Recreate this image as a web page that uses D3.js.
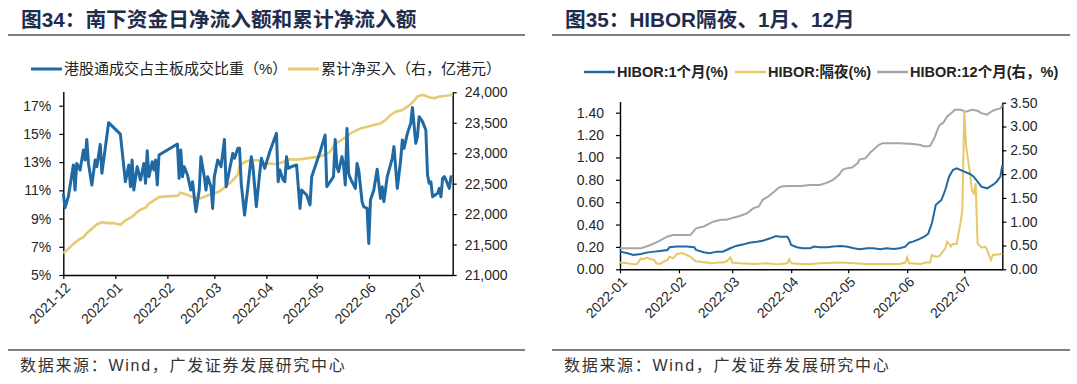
<!DOCTYPE html>
<html>
<head>
<meta charset="utf-8">
<script src="https://cdn.jsdelivr.net/npm/d3@7"></script>
<style>
  body { margin: 0; background: #ffffff; }
  text { font-family: "Liberation Sans", "Noto Sans CJK SC", sans-serif; }
</style>
</head>
<body>
<svg id="canvas"></svg>
<script>
////////////////////////////////////////////////////////////////////////////////
// Data - figure 34 (southbound flows)
////////////////////////////////////////////////////////////////////////////////

// Share of southbound turnover in main board turnover (%), left axis.
var shareDates = [
  '2021-12-01','2021-12-02','2021-12-04','2021-12-07','2021-12-08','2021-12-09','2021-12-11','2021-12-13',
  '2021-12-14','2021-12-15','2021-12-16','2021-12-18','2021-12-20','2021-12-21','2021-12-23','2021-12-24',
  '2021-12-28','2022-01-04','2022-01-07','2022-01-09','2022-01-10','2022-01-11','2022-01-12','2022-01-14',
  '2022-01-16','2022-01-18','2022-01-19','2022-01-20','2022-01-21','2022-01-23','2022-01-24','2022-01-25',
  '2022-01-26','2022-01-27','2022-02-07','2022-02-08','2022-02-09','2022-02-10','2022-02-11','2022-02-13',
  '2022-02-15','2022-02-16','2022-02-18','2022-02-20','2022-02-21','2022-02-23','2022-02-24','2022-02-25',
  '2022-02-27','2022-02-28','2022-03-01','2022-03-03','2022-03-05','2022-03-07','2022-03-08','2022-03-10',
  '2022-03-12','2022-03-13','2022-03-15','2022-03-16','2022-03-17','2022-03-19','2022-03-21','2022-03-23',
  '2022-03-24','2022-03-26','2022-03-28','2022-03-29','2022-03-31','2022-04-03','2022-04-07','2022-04-08',
  '2022-04-09','2022-04-11','2022-04-12','2022-04-13','2022-04-14','2022-04-16','2022-04-19','2022-04-21',
  '2022-04-22','2022-04-25','2022-04-27','2022-04-28','2022-05-01','2022-05-03','2022-05-06','2022-05-07',
  '2022-05-09','2022-05-11','2022-05-12','2022-05-13','2022-05-14','2022-05-16','2022-05-17','2022-05-18',
  '2022-05-19','2022-05-20','2022-05-21','2022-05-24','2022-05-25','2022-05-26','2022-05-28','2022-05-29',
  '2022-05-31','2022-06-01','2022-06-02','2022-06-04','2022-06-06','2022-06-08','2022-06-09','2022-06-10',
  '2022-06-12','2022-06-15','2022-06-16','2022-06-18','2022-06-20','2022-06-21','2022-06-22','2022-06-24',
  '2022-06-26','2022-06-27','2022-06-29','2022-06-30','2022-07-01','2022-07-03','2022-07-05','2022-07-06',
  '2022-07-07','2022-07-08','2022-07-09','2022-07-12','2022-07-13','2022-07-14','2022-07-15','2022-07-16',
  '2022-07-17','2022-07-19','2022-07-20','2022-07-21'
];
var shareValues = [
  10.79, 9.77,10.55,12.80,11.02,12.91,12.44,13.86,
  13.15,14.61,12.91,11.38,13.15,12.68,14.26,12.21,
  15.80,14.99,11.61,12.80,11.26,13.15,11.02,12.68,
  11.73,12.91,11.50,13.81,11.97,13.03,12.44,13.15,
  11.38,13.50,14.28,11.85,13.86,11.97,12.68,12.09,
  11.02,11.61, 9.49,11.02,13.39,11.97,11.02,11.97,
  11.26, 9.72,11.97,13.15,12.68,14.61,11.26,12.44,
  13.62,13.27,13.98,13.98,11.50, 9.25,11.26,13.39,
  12.68, 9.84,12.21,13.27,12.56,13.74,15.04,11.61,
  12.44,11.73,11.61,13.39,12.56,12.68,12.80, 9.72,
  11.02,10.67, 9.96,11.97,13.03,13.74,14.92,11.26,
  11.61,11.97,14.61,12.68,12.32,13.39,12.80,11.38,
  15.39,12.21,11.85,11.14,12.91,12.44,10.20, 9.84,
   9.72, 7.24,10.32,11.02,12.49,10.43,11.26,10.20,
  11.97,13.27,14.10,11.14,13.15,14.57,13.98,15.04,
  15.75,16.88,14.33,14.80,16.22,15.87,15.28,12.09,
  11.50,11.61,10.55,10.79,11.14,10.55,11.85,11.97,
  11.73,11.14,11.97,11.97
];

// Cumulative net buying (right axis, 100m HKD).
var cumDates = [
  '2021-12-01','2021-12-04','2021-12-07','2021-12-10','2021-12-13','2021-12-15','2021-12-18','2021-12-21',
  '2021-12-24','2021-12-27','2021-12-31','2022-01-04','2022-01-07','2022-01-10','2022-01-12','2022-01-14',
  '2022-01-16','2022-01-19','2022-01-21','2022-01-24','2022-01-27','2022-02-01','2022-02-07','2022-02-09',
  '2022-02-12','2022-02-16','2022-02-20','2022-02-23','2022-02-25','2022-03-01','2022-03-05','2022-03-08',
  '2022-03-12','2022-03-15','2022-03-16','2022-03-19','2022-03-23','2022-03-27','2022-03-30','2022-04-03',
  '2022-04-07','2022-04-11','2022-04-15','2022-04-19','2022-04-23','2022-04-27','2022-05-01','2022-05-05',
  '2022-05-09','2022-05-12','2022-05-15','2022-05-18','2022-05-21','2022-05-24','2022-05-27','2022-05-31',
  '2022-06-04','2022-06-08','2022-06-11','2022-06-14','2022-06-17','2022-06-21','2022-06-24','2022-06-27',
  '2022-06-30','2022-07-02','2022-07-04','2022-07-07','2022-07-10','2022-07-13','2022-07-16','2022-07-19',
  '2022-07-21'
];
var cumValues = [
  21357,21429,21511,21577,21621,21687,21758,21830,
  21868,21852,21852,21824,21896,21940,21978,22033,
  22072,22104,22170,22225,22280,22291,22302,22352,
  22324,22280,22258,22280,22308,22335,22390,22456,
  22555,22649,22786,22857,22885,22885,22830,22830,
  22819,22857,22901,22895,22907,22923,22940,22967,
  23022,23159,23203,23258,23324,23368,23407,23434,
  23462,23489,23544,23627,23682,23709,23764,23830,
  23929,23956,23951,23918,23901,23929,23940,23951,
  23962
];

var shareTicks = [5, 7, 9, 11, 13, 15, 17];
var cumTicks = [21000, 21500, 22000, 22500, 23000, 23500, 24000];

////////////////////////////////////////////////////////////////////////////////
// Data - figure 35 (HIBOR)
////////////////////////////////////////////////////////////////////////////////

// HIBOR 1 month (%), left axis.
var hibor1mDates = [
  '2022-01-01','2022-01-05','2022-01-08','2022-01-12','2022-01-15','2022-01-19','2022-01-22','2022-01-26',
  '2022-01-27','2022-01-31','2022-02-05','2022-02-09','2022-02-10','2022-02-14','2022-02-17','2022-02-21',
  '2022-02-24','2022-02-28','2022-03-03','2022-03-07','2022-03-10','2022-03-14','2022-03-17','2022-03-21',
  '2022-03-24','2022-03-26','2022-03-30','2022-03-31','2022-04-01','2022-04-04','2022-04-07','2022-04-11',
  '2022-04-13','2022-04-16','2022-04-20','2022-04-23','2022-04-27','2022-04-30','2022-05-04','2022-05-07',
  '2022-05-11','2022-05-14','2022-05-18','2022-05-21','2022-05-25','2022-05-28','2022-05-31','2022-06-02',
  '2022-06-04','2022-06-07','2022-06-10','2022-06-12','2022-06-14','2022-06-16','2022-06-18','2022-06-19',
  '2022-06-21','2022-06-23','2022-06-25','2022-06-27','2022-07-01','2022-07-04','2022-07-06','2022-07-08',
  '2022-07-10','2022-07-13','2022-07-16','2022-07-18','2022-07-20','2022-07-21'
];
var hibor1mValues = [
  0.158,0.143,0.128,0.137,0.149,0.158,0.164,0.173,
  0.197,0.203,0.203,0.197,0.173,0.152,0.143,0.158,
  0.158,0.188,0.209,0.223,0.238,0.247,0.256,0.277,
  0.298,0.292,0.292,0.262,0.217,0.197,0.188,0.188,
  0.203,0.197,0.197,0.203,0.209,0.203,0.188,0.179,
  0.188,0.188,0.179,0.188,0.182,0.188,0.203,0.238,
  0.247,0.268,0.292,0.316,0.411,0.575,0.605,0.620,
  0.709,0.828,0.888,0.903,0.873,0.852,0.828,0.783,
  0.739,0.724,0.754,0.783,0.828,0.932
];

// HIBOR overnight (%), left axis.
var hiborOnDates = [
  '2022-01-01','2022-01-05','2022-01-08','2022-01-10','2022-01-12','2022-01-13','2022-01-15','2022-01-17',
  '2022-01-19','2022-01-20','2022-01-22','2022-01-24','2022-01-26','2022-01-27','2022-01-29','2022-01-31',
  '2022-02-02','2022-02-03','2022-02-05','2022-02-07','2022-02-09','2022-02-10','2022-02-12','2022-02-14',
  '2022-02-16','2022-02-17','2022-02-19','2022-02-21','2022-02-24','2022-02-26','2022-02-28','2022-03-01',
  '2022-03-05','2022-03-12','2022-03-19','2022-03-23','2022-03-26','2022-03-30','2022-03-31','2022-04-01',
  '2022-04-06','2022-04-11','2022-04-16','2022-04-27','2022-05-04','2022-05-11','2022-05-21','2022-05-28',
  '2022-05-31','2022-06-01','2022-06-02','2022-06-08','2022-06-11','2022-06-13','2022-06-14','2022-06-16',
  '2022-06-18','2022-06-21','2022-06-22','2022-06-24','2022-06-25','2022-06-27','2022-06-29','2022-06-30',
  '2022-07-01','2022-07-02','2022-07-04','2022-07-05','2022-07-06','2022-07-07','2022-07-08','2022-07-10',
  '2022-07-12','2022-07-13','2022-07-15','2022-07-16','2022-07-20','2022-07-21'
];
var hiborOnValues = [
  0.060,0.054,0.045,0.048,0.098,0.089,0.104,0.092,
  0.083,0.054,0.048,0.069,0.083,0.113,0.098,0.137,
  0.143,0.143,0.128,0.113,0.083,0.069,0.069,0.060,
  0.063,0.054,0.054,0.060,0.060,0.069,0.107,0.060,
  0.054,0.048,0.054,0.048,0.045,0.054,0.089,0.054,
  0.048,0.048,0.054,0.060,0.054,0.048,0.048,0.048,
  0.060,0.107,0.054,0.048,0.060,0.060,0.128,0.113,
  0.119,0.188,0.247,0.203,0.226,0.226,0.411,0.530,
  1.424,1.096,0.858,0.709,0.679,0.769,0.232,0.194,
  0.203,0.173,0.083,0.128,0.134,0.143
];

// HIBOR 12 months (%), right axis.
var hibor12mDates = [
  '2022-01-01','2022-01-12','2022-01-17','2022-01-21','2022-01-26','2022-01-29','2022-02-07','2022-02-10',
  '2022-02-14','2022-02-19','2022-02-23','2022-02-26','2022-03-02','2022-03-05','2022-03-09','2022-03-12',
  '2022-03-15','2022-03-17','2022-03-20','2022-03-23','2022-03-25','2022-03-27','2022-03-30','2022-04-06',
  '2022-04-11','2022-04-16','2022-04-20','2022-04-23','2022-04-26','2022-04-28','2022-04-30','2022-05-03',
  '2022-05-06','2022-05-07','2022-05-10','2022-05-13','2022-05-15','2022-05-17','2022-05-19','2022-05-28',
  '2022-06-04','2022-06-08','2022-06-10','2022-06-13','2022-06-15','2022-06-17','2022-06-18','2022-06-20',
  '2022-06-22','2022-06-25','2022-06-26','2022-06-29','2022-07-02','2022-07-05','2022-07-08','2022-07-10',
  '2022-07-13','2022-07-15','2022-07-17','2022-07-20','2022-07-21'
];
var hibor12mValues = [
  0.44,0.44,0.51,0.58,0.69,0.72,0.72,0.86,
  0.90,1.00,1.04,1.04,1.09,1.12,1.18,1.28,
  1.32,1.46,1.53,1.63,1.70,1.74,1.75,1.75,
  1.77,1.77,1.82,1.88,1.98,2.09,2.12,2.14,
  2.23,2.31,2.33,2.47,2.54,2.61,2.65,2.65,
  2.63,2.61,2.58,2.59,2.73,2.94,3.03,3.08,
  3.21,3.31,3.35,3.35,3.31,3.35,3.33,3.28,
  3.25,3.31,3.35,3.38,3.45
];

var hiborLeftTicks = [0, 0.2, 0.4, 0.6, 0.8, 1.0, 1.2, 1.4];
var hiborRightTicks = [0, 0.5, 1.0, 1.5, 2.0, 2.5, 3.0, 3.5];

////////////////////////////////////////////////////////////////////////////////
// Canvas and graph settings
////////////////////////////////////////////////////////////////////////////////
var canvas = {
  dim: { w: 1077, h: 384 },
  colours: {
    title: '#1f2d4d',
    text: '#262626',
    blue: '#1f69a4',
    yellow: '#e6cb74',
    onYellow: '#e8c766',
    grey: '#a6a6a6'
  }
};

var parseDate = d3.timeParse('%Y-%m-%d');

// Turn two parallel arrays into a list of points.
var zipSeries = function(dates, values) {
  return dates.map(function(d, i) {
    return { date: parseDate(d), value: values[i] };
  });
};

var svg = d3.select('#canvas')
            .attr('width', canvas.dim.w)
            .attr('height', canvas.dim.h);

// Draw title, rules and source note of one panel.
var drawFrame = function(x0, x1, titleX, title, sourceX) {

  svg.append('text')
     .attr('x', titleX)
     .attr('y', 27)
     .attr('font-size', 20.7)
     .attr('font-weight', 'bold')
     .attr('fill', canvas.colours.title)
     .text(title);

  svg.append('line')
     .attr('x1', x0).attr('x2', x1)
     .attr('y1', 35).attr('y2', 35)
     .attr('stroke', '#000').attr('stroke-width', 1.2);

  svg.append('line')
     .attr('x1', x0).attr('x2', x1)
     .attr('y1', 350).attr('y2', 350)
     .attr('stroke', '#000').attr('stroke-width', 1.2);

  svg.append('text')
     .attr('x', sourceX)
     .attr('y', 371)
     .attr('font-size', 16)
     .attr('letter-spacing', 1.7)
     .attr('fill', '#333')
     .text('数据来源：Wind，广发证券发展研究中心');
};

// Draw a legend entry.
var legendItem = function(x, y, colour, width, label, bold, size) {
  svg.append('line')
     .attr('x1', x).attr('x2', x + 31)
     .attr('y1', y).attr('y2', y)
     .attr('stroke', colour).attr('stroke-width', width);

  svg.append('text')
     .attr('x', x + 33)
     .attr('y', y)
     .attr('dy', '0.35em')
     .attr('font-size', size)
     .attr('font-weight', bold ? 'bold' : 'normal')
     .attr('fill', '#222')
     .text(label);
};

// Style axis: black domain, ticks and label font.
var styleAxis = function(g) {
  g.select('.domain').attr('stroke', '#000').attr('stroke-width', 1.4);
  g.selectAll('.tick line').attr('stroke', '#000').attr('stroke-width', 1.2);
  g.selectAll('.tick text')
   .attr('fill', canvas.colours.text)
   .attr('font-size', 14)
   .attr('font-family', '"Liberation Sans", Arial, sans-serif');
};

// Bottom time axis with rotated month labels.
var drawTimeAxis = function(x, yPos, start, end) {
  var months = d3.timeMonth.range(start, end);
  var g = svg.append('g')
             .attr('transform', 'translate(0,' + yPos + ')')
             .call(d3.axisBottom(x)
                     .tickValues(months)
                     .tickSize(4)
                     .tickSizeOuter(0)
                     .tickFormat(d3.timeFormat('%Y-%m')));
  styleAxis(g);
  g.selectAll('.tick text')
   .attr('x', 0).attr('y', 0)
   .attr('dy', '0.35em')
   .attr('text-anchor', 'end')
   .attr('transform', 'translate(4,10) rotate(-45)');
};

////////////////////////////////////////////////////////////////////////////////
// Figure 34
////////////////////////////////////////////////////////////////////////////////
drawFrame(8, 525, 21, '图34：南下资金日净流入额和累计净流入额', 20);

legendItem(31, 69, canvas.colours.blue, 3, '港股通成交占主板成交比重（%）', false, 15);
legendItem(288, 69, canvas.colours.yellow, 3, '累计净买入（右，亿港元）', false, 15);

var startL = parseDate('2021-12-01');
var endL = parseDate('2022-07-21');

var xL = d3.scaleTime().domain([startL, endL]).range([63.3, 452.7]);
var yShare = d3.scaleLinear().domain([5, 18]).range([275, 91.6]);
var yCum = d3.scaleLinear().domain([21000, 24000]).range([275, 92.3]);

var gL = svg.append('g')
            .attr('transform', 'translate(63.3,0)')
            .call(d3.axisLeft(yShare).tickValues(shareTicks).tickSize(4).tickPadding(8)
                    .tickSizeOuter(0).tickFormat(function(d) { return d + '%'; }));
styleAxis(gL);

var gR = svg.append('g')
            .attr('transform', 'translate(452.7,0)')
            .call(d3.axisRight(yCum).tickValues(cumTicks).tickSize(4).tickPadding(8)
                    .tickSizeOuter(0).tickFormat(d3.format(',')));
styleAxis(gR);

drawTimeAxis(xL, 275, startL, endL);

// Cumulative net buying line.
svg.append('path')
   .datum(zipSeries(cumDates, cumValues))
   .attr('fill', 'none')
   .attr('stroke', canvas.colours.yellow)
   .attr('stroke-width', 2.6)
   .attr('d', d3.line()
                .x(function(d) { return xL(d.date); })
                .y(function(d) { return yCum(d.value); }));

// Turnover share line.
svg.append('path')
   .datum(zipSeries(shareDates, shareValues))
   .attr('fill', 'none')
   .attr('stroke', canvas.colours.blue)
   .attr('stroke-width', 3)
   .attr('stroke-linejoin', 'round')
   .attr('d', d3.line()
                .x(function(d) { return xL(d.date); })
                .y(function(d) { return yShare(d.value); }));

////////////////////////////////////////////////////////////////////////////////
// Figure 35
////////////////////////////////////////////////////////////////////////////////
drawFrame(552, 1070, 565, '图35：HIBOR隔夜、1月、12月', 564);

legendItem(584, 72, canvas.colours.blue, 2.5, 'HIBOR:1个月(%)', true, 14.5);
legendItem(735, 72, canvas.colours.onYellow, 2.5, 'HIBOR:隔夜(%)', true, 14.5);
legendItem(877, 72, canvas.colours.grey, 2.5, 'HIBOR:12个月(右，%)', true, 14.5);

var startR = parseDate('2022-01-01');
var endR = parseDate('2022-07-21');

var xR = d3.scaleTime().domain([startR, endR]).range([620, 1002.3]);
var yRate = d3.scaleLinear().domain([0, 1.5]).range([269.3, 101.5]);
var yRate12 = d3.scaleLinear().domain([0, 3.5]).range([269.3, 102.7]);

var gRL = svg.append('g')
             .attr('transform', 'translate(620,0)')
             .call(d3.axisLeft(yRate).tickValues(hiborLeftTicks).tickSize(4).tickPadding(12)
                     .tickSizeOuter(0).tickFormat(d3.format('.2f')));
styleAxis(gRL);

var gRR = svg.append('g')
             .attr('transform', 'translate(1002.3,0)')
             .call(d3.axisRight(yRate12).tickValues(hiborRightTicks).tickSize(4).tickPadding(4)
                     .tickSizeOuter(0).tickFormat(d3.format('.2f')));
styleAxis(gRR);

drawTimeAxis(xR, 269.3, startR, endR);

// Helper to draw a HIBOR line.
var hiborLine = function(points, y, colour) {
  svg.append('path')
     .datum(points)
     .attr('fill', 'none')
     .attr('stroke', colour)
     .attr('stroke-width', 2)
     .attr('d', d3.line()
                  .x(function(d) { return xR(d.date); })
                  .y(function(d) { return y(d.value); }));
};

hiborLine(zipSeries(hibor12mDates, hibor12mValues), yRate12, canvas.colours.grey);
hiborLine(zipSeries(hiborOnDates, hiborOnValues), yRate, canvas.colours.onYellow);
hiborLine(zipSeries(hibor1mDates, hibor1mValues), yRate, canvas.colours.blue);
</script>
</body>
</html>
